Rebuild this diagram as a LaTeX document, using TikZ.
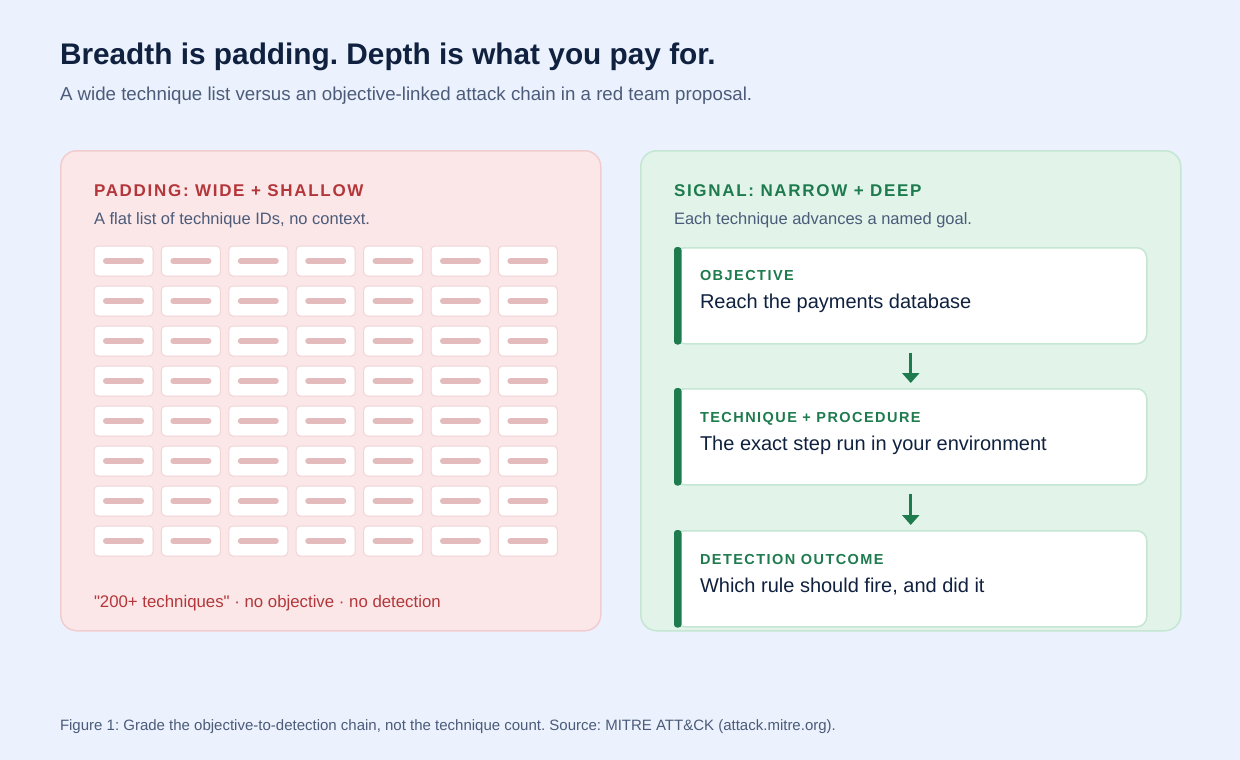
\documentclass[tikz,border=0pt]{standalone}
\usepackage{fontspec}
\setmainfont{Liberation Sans}
\newfontfamily\spacedfont[LetterSpace=10]{Liberation Sans}
\usetikzlibrary{arrows.meta}
\frenchspacing
\definecolor{bg}{HTML}{EBF2FD}
\definecolor{navy}{HTML}{10213F}
\definecolor{graytext}{HTML}{4B5B79}
\definecolor{pinkfill}{HTML}{FBE7E8}
\definecolor{pinkline}{HTML}{F2CDCF}
\definecolor{cellline}{HTML}{F2D4D5}
\definecolor{barcol}{HTML}{E4BBBC}
\definecolor{redtext}{HTML}{B3363A}
\definecolor{greenfill}{HTML}{E2F4EA}
\definecolor{greenline}{HTML}{C4E6D2}
\definecolor{accent}{HTML}{1E7B4E}
\tikzset{
  txt/.style={anchor=base west, inner sep=0pt, outer sep=0pt},
  panel/.style={draw, line width=1.5pt, rounded corners=16pt, anchor=north west, minimum width=540pt, minimum height=480pt, inner sep=0pt},
  cell/.style={draw=cellline, line width=1pt, fill=white, rounded corners=4pt, minimum width=59pt, minimum height=30pt, inner sep=0pt},
  bar/.style={draw=barcol, line width=6pt, line cap=round},
  stepbox/.style={draw=greenline, line width=1.5pt, fill=white, rounded corners=10pt, anchor=north west, minimum width=472pt, minimum height=96pt, inner sep=0pt},
  lab/.style={txt, text=accent, font=\spacedfont\fontsize{14.5}{17}\selectfont\bfseries},
  main/.style={txt, text=navy, font=\fontsize{20}{23}\selectfont},
  flow/.style={draw=accent, line width=3pt, -{Triangle[width=17pt,length=10pt]}, shorten <=8pt, shorten >=5pt},
}
\begin{document}
\begin{tikzpicture}[x=1pt,y=-1pt]
\fill[bg] (0,0) rectangle (1240,760);
\useasboundingbox (0,0) rectangle (1240,760);

\node[txt, text=navy, font=\fontsize{29.8}{34}\selectfont\bfseries] (title) at (60,65) {Breadth is padding. Depth is what you pay for.};
\node[txt, text=graytext, font=\fontsize{18.7}{21}\selectfont] (subtitle) at (60,100) {A wide technique list versus an objective-linked attack chain in a red team proposal.};

% left panel
\node[panel, draw=pinkline, fill=pinkfill] (left) at (60,150) {};
\node[txt, text=redtext, font=\spacedfont\fontsize{17}{20}\selectfont\bfseries] (lefthead) at (94,196) {PADDING: WIDE + SHALLOW};
\node[txt, text=graytext, font=\fontsize{16.5}{19}\selectfont] (leftsub) at (94,224) {A flat list of technique IDs, no context.};
\foreach \r in {0,...,7} {
  \foreach \c in {0,...,6} {
    \node[cell] (c-\r-\c) at ({123.5+\c*67.4},{261+\r*40}) {};
    \draw[bar] ([xshift=-17.5pt]c-\r-\c.center) -- ([xshift=17.5pt]c-\r-\c.center);
  }
}
\node[txt, text=redtext, font=\fontsize{16.8}{20}\selectfont] (leftfoot) at (94,607) {\textquotedbl 200+ techniques\textquotedbl{} · no objective · no detection};

% right panel
\node[panel, draw=greenline, fill=greenfill] (right) at (640,150) {};
\node[txt, text=accent, font=\spacedfont\fontsize{17}{20}\selectfont\bfseries] (righthead) at (674,196) {SIGNAL: NARROW + DEEP};
\node[txt, text=graytext, font=\fontsize{16.5}{19}\selectfont] (rightsub) at (674,224) {Each technique advances a named goal.};

\node[stepbox] (obj) at (674,247) {};
\node[stepbox] (tech) at (674,388) {};
\node[stepbox] (det) at (674,530) {};
\foreach \b in {obj,tech,det} {
  \fill[accent, rounded corners=3pt] (\b.north west) rectangle ([xshift=7.5pt]\b.south west);
}
\node[lab] (obj-l) at (700,280) {OBJECTIVE};
\node[main] (obj-m) at (700,308) {Reach the payments database};
\node[lab] (tech-l) at (700,422) {TECHNIQUE + PROCEDURE};
\node[main] (tech-m) at (700,450) {The exact step run in your environment};
\node[lab] (det-l) at (700,564) {DETECTION OUTCOME};
\node[main] (det-m) at (700,592) {Which rule should fire, and did it};

\draw[flow] (obj.south) -- (tech.north);
\draw[flow] (tech.south) -- (det.north);

\node[txt, text=graytext, font=\fontsize{15}{18}\selectfont] (caption) at (60,730) {Figure 1: Grade the objective-to-detection chain, not the technique count. Source: MITRE ATT\&CK (attack.mitre.org).};
\end{tikzpicture}
\end{document}
